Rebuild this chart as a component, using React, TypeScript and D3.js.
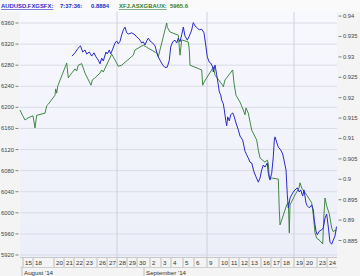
import React from 'react';
import * as d3 from 'd3';

const W = 360;
const H = 276;

// x is a trading-time index (1 unit = one session, weekends compressed)
const dayTicks: { t: number; label: string }[] = [
  { t: 0.3, label: '15' }, { t: 1.3, label: '18' }, { t: 3.4, label: '20' }, { t: 4.4, label: '21' },
  { t: 5.4, label: '22' }, { t: 6.4, label: '23' }, { t: 7.7, label: '26' }, { t: 8.7, label: '27' },
  { t: 9.7, label: '28' }, { t: 10.7, label: '29' }, { t: 11.7, label: '30' }, { t: 13.0, label: '2' },
  { t: 14.1, label: '3' }, { t: 15.1, label: '4' }, { t: 16.3, label: '5' }, { t: 17.4, label: '6' },
  { t: 18.7, label: '9' }, { t: 19.9, label: '10' }, { t: 20.9, label: '11' }, { t: 21.9, label: '12' },
  { t: 22.9, label: '13' }, { t: 24.1, label: '16' }, { t: 25.1, label: '17' }, { t: 26.1, label: '18' },
  { t: 27.4, label: '19' }, { t: 28.4, label: '20' }, { t: 29.7, label: '23' }, { t: 30.7, label: '24' },
];
const monthTicks: { t: number; label: string }[] = [
  { t: 0.2, label: "August '14" },
  { t: 12.4, label: "September '14" },
];
const gridDays = [9.7, 18.7, 27.4];
const leftTicks = [5920, 5960, 6000, 6040, 6080, 6120, 6160, 6200, 6240, 6280, 6320, 6360];
const rightTicks = [0.885, 0.89, 0.895, 0.9, 0.905, 0.91, 0.915, 0.92, 0.925, 0.93, 0.935, 0.94];

// AUDUSD (right axis)
const audusd: [number, number][] = [
  [5.2, 0.9302], [5.5, 0.931], [5.8, 0.9321], [6.05, 0.9327], [6.27, 0.9312], [6.5, 0.9317],
  [6.67, 0.9307], [6.93, 0.9312], [7.17, 0.9302], [7.4, 0.931], [7.6, 0.93], [7.83, 0.9292],
  [8.0, 0.9283], [8.17, 0.9297], [8.33, 0.929], [8.6, 0.9312], [8.73, 0.9307], [8.93, 0.9317],
  [9.07, 0.9307], [9.27, 0.9319], [9.5, 0.9334], [9.67, 0.9339], [9.83, 0.9332], [10.0, 0.9338],
  [10.17, 0.9354], [10.33, 0.9366], [10.5, 0.9373], [10.67, 0.9359], [10.83, 0.9356], [11.17, 0.9359],
  [11.5, 0.9354], [11.67, 0.9349], [11.83, 0.9346], [12.0, 0.9341], [12.17, 0.9334], [12.33, 0.9337],
  [12.5, 0.9329], [12.67, 0.9339], [12.83, 0.9346], [13.0, 0.9339], [13.27, 0.9334], [13.5, 0.9327],
  [13.67, 0.9312], [13.83, 0.93], [14.0, 0.9292], [14.27, 0.928], [14.5, 0.9274], [14.73, 0.9275],
  [14.93, 0.9292], [15.07, 0.9324], [15.27, 0.9337], [15.5, 0.9341], [15.67, 0.9334], [15.83, 0.9346],
  [16.0, 0.9337], [16.17, 0.9354], [16.33, 0.9373], [16.5, 0.9351], [16.73, 0.9341], [16.93, 0.9351],
  [17.17, 0.9366], [17.33, 0.9384], [17.5, 0.9376], [17.73, 0.9371], [17.93, 0.9366], [18.17, 0.9368],
  [18.4, 0.9359], [18.6, 0.9324], [18.73, 0.93], [18.93, 0.9287], [19.07, 0.9285], [19.27, 0.9275],
  [19.33, 0.9263], [19.5, 0.928], [19.67, 0.9256], [19.83, 0.9231], [19.93, 0.9214], [20.07, 0.9207],
  [20.17, 0.9194], [20.33, 0.9185], [20.43, 0.917], [20.57, 0.9145], [20.67, 0.9131], [20.77, 0.9153],
  [20.93, 0.9143], [21.07, 0.9158], [21.27, 0.9163], [21.4, 0.9155], [21.6, 0.9138], [21.83, 0.9121],
  [22.0, 0.9106], [22.27, 0.9096], [22.5, 0.9069], [22.67, 0.906], [22.83, 0.9052], [23.0, 0.9042],
  [23.17, 0.904], [23.4, 0.9018], [23.6, 0.9006], [23.83, 0.8993], [24.0, 0.9003], [24.17, 0.9023],
  [24.33, 0.9035], [24.5, 0.903], [24.73, 0.904], [24.83, 0.9015], [25.0, 0.8998], [25.17, 0.9015],
  [25.33, 0.9055], [25.43, 0.9096], [25.5, 0.9104], [25.67, 0.9091], [25.83, 0.9079], [26.07, 0.9072],
  [26.27, 0.9062], [26.4, 0.9047], [26.6, 0.9023], [26.73, 0.8962], [26.83, 0.893], [27.0, 0.8954],
  [27.17, 0.8962], [27.33, 0.8969], [27.5, 0.8974], [27.73, 0.8979], [27.93, 0.8969], [28.07, 0.8974],
  [28.27, 0.8959], [28.4, 0.8974], [28.6, 0.8942], [28.73, 0.8935], [28.93, 0.893], [29.17, 0.8937],
  [29.33, 0.8925], [29.43, 0.89], [29.6, 0.8873], [29.73, 0.8864], [29.93, 0.8873], [30.17, 0.8876],
  [30.33, 0.8881], [30.5, 0.8905], [30.67, 0.8915], [30.83, 0.8883], [31.0, 0.8846], [31.17, 0.8841],
  [31.33, 0.8851], [31.5, 0.8861], [31.65, 0.8884],
];

// XFJ (left axis)
const xfj: [number, number][] = [
  [0.0, 6195], [0.25, 6185], [0.5, 6176], [0.8, 6180], [1.3, 6184], [1.5, 6161], [1.67, 6185],
  [2.5, 6189], [2.67, 6203], [2.83, 6206], [3.5, 6223], [3.57, 6235], [3.67, 6227], [3.77, 6240],
  [4.67, 6284], [4.83, 6256], [5.17, 6265], [5.5, 6273], [5.67, 6269], [5.83, 6280], [6.17, 6283],
  [6.5, 6265], [7.1, 6242], [7.23, 6252], [7.5, 6256], [8.0, 6265], [8.17, 6271], [8.33, 6267],
  [9.17, 6301], [9.5, 6290], [9.83, 6278], [10.17, 6280], [11.33, 6299], [11.5, 6309], [12.33, 6318],
  [12.67, 6314], [13.67, 6303], [13.83, 6296], [14.67, 6360], [14.73, 6352], [15.0, 6343],
  [15.83, 6337], [15.93, 6314], [16.0, 6299], [16.17, 6328], [16.83, 6324], [16.93, 6309], [17.0, 6280],
  [18.17, 6271], [18.27, 6242], [18.4, 6248], [19.17, 6271], [19.33, 6277], [19.5, 6261], [20.27, 6242],
  [20.33, 6239], [20.5, 6252], [21.27, 6271], [21.4, 6246], [21.6, 6223], [22.0, 6210], [22.33, 6195],
  [22.5, 6186], [22.6, 6199], [22.83, 6189], [23.17, 6157], [23.67, 6138], [23.83, 6119], [24.0, 6104],
  [24.5, 6096], [24.73, 6100], [24.83, 6093], [24.93, 6066], [25.17, 6066], [25.83, 6064], [25.93, 6005],
  [26.0, 5977], [26.17, 5986], [26.67, 6015], [26.83, 6020], [26.93, 5962], [27.0, 6015], [27.5, 6034],
  [27.9, 6047], [28.0, 6057], [28.17, 6047], [28.67, 6034], [29.17, 6019], [29.33, 5996], [29.5, 5962],
  [29.67, 5952], [30.0, 5947], [30.27, 5941], [30.4, 5998], [30.5, 6028], [30.67, 6013], [30.93, 5998],
  [31.17, 5971], [31.33, 5964], [31.5, 5967], [31.65, 5966],
];

const FONT = '"Liberation Sans", Arial, sans-serif';
const BLUE = '#2a2ac8';
const GREEN = '#2f7d2f';

export default function App() {
  const left = 20, right = 337, top = 12, bottom = 257;
  const x = d3.scaleLinear().domain([0, 31.7]).range([left, right]);
  const yL = d3.scaleLinear().domain([5916.2, 6380.9]).range([bottom, top]);
  const yR = d3.scaleLinear().domain([0.88096, 0.941]).range([bottom, top]);

  const blueLine = d3.line<[number, number]>().x(d => x(d[0])).y(d => yR(d[1]))(audusd) || '';
  const greenLine = d3.line<[number, number]>().x(d => x(d[0])).y(d => yL(d[1]))(xfj) || '';

  return (
    <svg width={W} height={H} style={{ position: 'absolute', left: 0, top: 0, display: 'block' }} fontFamily={FONT}>
      <defs>
        <linearGradient id="pbg" x1="0" y1="0" x2="0" y2="1">
          <stop offset="0" stopColor="#f8f9fe" />
          <stop offset="1" stopColor="#eceef9" />
        </linearGradient>
      </defs>
      <rect x={0} y={0} width={W} height={H} fill="#f4f4f4" />
      <rect x={0} y={0} width={W} height={top} fill="#fafafa" />
      <rect x={left} y={top} width={right - left} height={bottom - top} fill="url(#pbg)" />

      {/* horizontal gridlines (left axis) */}
      {leftTicks.map(v => (
        <line key={'hg' + v} x1={left} x2={right} y1={yL(v)} y2={yL(v)} stroke="#d9dbe6" strokeWidth={1} />
      ))}
      {gridDays.map(t => (
        <line key={'vg' + t} x1={x(t)} x2={x(t)} y1={top} y2={bottom} stroke="#cfd0da" strokeWidth={1} />
      ))}

      {/* series */}
      <path d={greenLine} fill="none" stroke={GREEN} strokeWidth={0.9} />
      <path d={blueLine} fill="none" stroke={BLUE} strokeWidth={1} />

      {/* left axis */}
      {leftTicks.map(v => (
        <g key={'lt' + v}>
          <text x={14} y={yL(v) + 2} fontSize={5.8} fill="#444" textAnchor="end">{v}</text>
          <line x1={15.5} x2={18.5} y1={yL(v)} y2={yL(v)} stroke="#666" strokeWidth={0.8} />
        </g>
      ))}
      {/* right axis */}
      {rightTicks.map(v => (
        <g key={'rt' + v}>
          <line x1={338.5} x2={341.5} y1={yR(v)} y2={yR(v)} stroke="#666" strokeWidth={0.8} />
          <text x={343} y={yR(v) + 2} fontSize={5.8} fill="#444">{String(+v.toFixed(3))}</text>
        </g>
      ))}

      {/* bottom axis */}
      <line x1={left} x2={right} y1={bottom + 0.5} y2={bottom + 0.5} stroke="#c8c8c8" />
      <line x1={left} x2={right} y1={267.5} y2={267.5} stroke="#d0d0d0" />
      {dayTicks.map(d => (
        <g key={'dt' + d.t}>
          <line x1={x(d.t)} x2={x(d.t)} y1={258} y2={267} stroke="#b0b0b0" strokeWidth={0.8} />
          <text x={x(d.t) + 2} y={265} fontSize={6.2} fill="#333">{d.label}</text>
        </g>
      ))}
      {monthTicks.map(m => (
        <g key={'mt' + m.t}>
          <line x1={x(m.t)} x2={x(m.t)} y1={268} y2={276} stroke="#b0b0b0" strokeWidth={0.8} />
          <text x={x(m.t) + 2} y={274.5} fontSize={6.2} fill="#333">{m.label}</text>
        </g>
      ))}

      {/* legend */}
      <text y={8} fontSize={5.9} fontWeight="bold" fill={BLUE}>
        <tspan x={1} textDecoration="underline">AUDUSD.FXGSFX:</tspan>
        <tspan x={60}>7:37:36:</tspan>
        <tspan x={91}>0.8884</tspan>
      </text>
      <text y={8} fontSize={5.9} fontWeight="bold" fill={GREEN}>
        <tspan x={119} textDecoration="underline">XFJ.ASXGBAUX:</tspan>
      </text>
      <text x={170} y={8} fontSize={5.9} fontWeight="bold" fill={GREEN}>5965.6</text>
    </svg>
  );
}
